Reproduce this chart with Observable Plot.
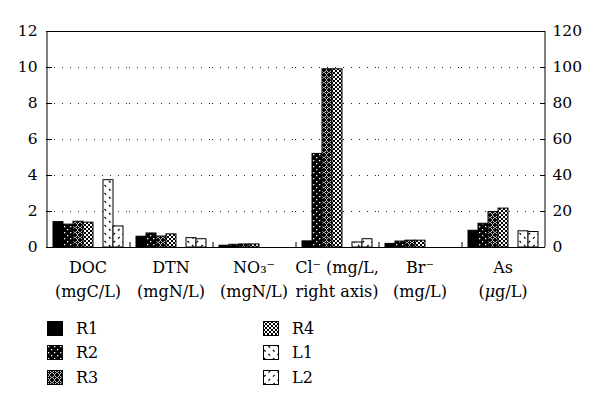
<!DOCTYPE html>
<html>
<head>
<meta charset="utf-8">
<script src="https://cdn.jsdelivr.net/npm/d3@7"></script>
<script src="https://cdn.jsdelivr.net/npm/@observablehq/plot@0.6"></script>
<style>
  body { margin: 0; background: #fff; font-family: "DejaVu Serif", serif; }
  #wrap { position: relative; width: 600px; height: 410px; }
  .leg { position: absolute; display: flex; align-items: center; font-size: 16px; color: #000; }
  .leg svg { margin-right: 13px; }
</style>
</head>
<body>
<svg width="0" height="0" style="position:absolute">
  <defs>
    <pattern id="p-r2" width="6" height="6" patternUnits="userSpaceOnUse">
      <rect width="6" height="6" fill="#000"/>
      <rect x="1" y="1" width="1.3" height="1.3" fill="#fff"/>
      <rect x="4" y="4" width="1.3" height="1.3" fill="#fff"/>
    </pattern>
    <pattern id="p-r3" width="5" height="5" patternUnits="userSpaceOnUse">
      <rect width="5" height="5" fill="#000"/>
      <path d="M2.5,0.4L4.6,2.5L2.5,4.6L0.4,2.5Z" fill="none" stroke="#fff" stroke-width="0.9"/>
    </pattern>
    <pattern id="p-r4" width="4" height="4" patternUnits="userSpaceOnUse">
      <rect width="4" height="4" fill="#fff"/>
      <rect x="0" y="0" width="2" height="2" fill="#000"/>
      <rect x="2" y="2" width="2" height="2" fill="#000"/>
    </pattern>
    <pattern id="p-l1" width="9" height="8" patternUnits="userSpaceOnUse">
      <rect width="9" height="8" fill="#fff"/>
      <path d="M1,5L2.6,6.6M5.5,1L7.1,2.6" stroke="#000" stroke-width="1.2"/>
    </pattern>
    <pattern id="p-l2" width="9" height="8" patternUnits="userSpaceOnUse">
      <rect width="9" height="8" fill="#fff"/>
      <path d="M1,6.6L2.6,5M5.5,2.6L7.1,1" stroke="#000" stroke-width="1.2"/>
    </pattern>
  </defs>
</svg>
<div id="wrap"><div id="chart"></div></div>
<script>
// ---- data ----
const groups = ["DOC", "DTN", "NO3", "Cl", "Br", "As"];
const groupLabels = ["DOC\n(mgC/L)", "DTN\n(mgN/L)", "NO\u2083\u207B\n(mgN/L)", "Cl\u207B (mg/L,\nright axis)", "Br\u207B\n(mg/L)", "As\n(\u03BCg/L)"];
const series = ["R1", "R2", "R3", "R4", "L1", "L2"];
const slots = ["R1", "R2", "R3", "R4", "", "L1", "L2"];
const R1 = [1.41, 0.60, 0.10, 3.4, 0.20, 0.93];
const R2 = [1.27, 0.78, 0.15, 52, 0.33, 1.32];
const R3 = [1.43, 0.61, 0.17, 99, 0.38, 1.97];
const R4 = [1.38, 0.73, 0.17, 99, 0.38, 2.16];
const L1 = [3.74, 0.52, 0, 2.8, 0, 0.90];
const L2 = [1.17, 0.46, 0, 4.6, 0, 0.86];
const leftTicks = [0, 2, 4, 6, 8, 10, 12];
const rightTicks = [0, 20, 40, 60, 80, 100, 120];
const rightAxisGroup = "Cl";
const rightFactor = 10;

const seriesValues = {R1, R2, R3, R4, L1, L2};
const fills = ["#000", "url(#p-r2)", "url(#p-r3)", "url(#p-r4)", "url(#p-l1)", "url(#p-l2)"];
const rows = [];
for (const s of series) groups.forEach((g, i) => {
  const v = seriesValues[s][i];
  if (v > 0) rows.push({group: g, series: s, value: v});
});

const FONT = "'DejaVu Serif', serif";
const W = 600, H = 306, mL = 46, mR = 56, mT = 31, mB = 59;
const po = 0.65;
const fw = (W - mL - mR) / groups.length;
const step = fw / (slots.length + 2 * po);
const edge = step * (po + 0.5);
const yMax = 12;
const ppu = (H - mT - mB) / yMax;

const chart = Plot.plot({
  width: W, height: H,
  marginLeft: mL, marginRight: mR, marginTop: mT, marginBottom: mB,
  style: {fontFamily: FONT, fontSize: "16px", color: "#000", background: "#fff", overflow: "visible"},
  fx: {domain: groups, paddingInner: 0, paddingOuter: 0, label: null},
  x: {domain: slots, paddingInner: 0, paddingOuter: po, axis: null},
  y: {domain: [0, yMax]},
  color: {domain: series, range: fills},
  marks: [
    Plot.ruleY([2, 4, 6, 8, 10], {stroke: "#222", strokeDasharray: "1,7"}),
    Plot.barY(rows, {
      fx: "group", x: "series",
      y: d => d.group === rightAxisGroup ? d.value / rightFactor : d.value,
      fill: "series", stroke: "#000", strokeWidth: 1
    }),
    Plot.ruleY([0, yMax], {stroke: "#000"}),
    Plot.ruleX([groups[0]], {fx: d => d, x: () => slots[0], dx: -edge, y1: 0, y2: yMax, stroke: "#000"}),
    Plot.ruleX([groups[groups.length - 1]], {fx: d => d, x: () => slots[slots.length - 1], dx: edge, y1: 0, y2: yMax, stroke: "#000"}),
    Plot.ruleX(groups.slice(1), {fx: d => d, x: () => slots[0], dx: -edge, y1: 0, y2: 5 / ppu, stroke: "#000"}),
    Plot.axisY({anchor: "left", ticks: leftTicks, tickSize: -6, tickPadding: 15, fontSize: 15.5, label: null}),
    Plot.axisY({anchor: "right", ticks: leftTicks, tickFormat: (d, i) => rightTicks[i], tickSize: -5, tickPadding: 13, fontSize: 15.5, label: null}),
    Plot.axisFx({anchor: "bottom", tickSize: 0, tickPadding: 8, fontSize: 16, lineHeight: 1.5,
      tickFormat: d => groupLabels[groups.indexOf(d)], label: null})
  ]
});
document.getElementById("chart").appendChild(chart);

// italic mu in the As unit
d3.select(chart).selectAll("tspan").each(function() {
  const t = this.textContent;
  if (t.includes("\u03BC")) {
    const parts = t.split("\u03BC");
    const sel = d3.select(this).text(null);
    sel.append("tspan").text(parts[0]);
    sel.append("tspan").style("font-style", "italic").text("\u03BC");
    sel.append("tspan").text(parts[1]);
  }
});

// ---- legend ----
const legendPos = [
  [47, 328], [47, 352], [47, 377],
  [263, 328], [263, 352], [263, 377]
];
const wrap = d3.select("#wrap");
series.forEach((s, i) => {
  const item = wrap.append("div").attr("class", "leg")
    .style("left", legendPos[i][0] + "px").style("top", (legendPos[i][1] - 10) + "px").style("height", "20px");
  const sw = item.append("svg").attr("width", 16).attr("height", 15);
  sw.append("rect").attr("x", 0.5).attr("y", 0.5).attr("width", 15).attr("height", 14)
    .attr("fill", fills[i]).attr("stroke", "#000");
  item.append("span").text(s);
});
</script>
</body>
</html>
